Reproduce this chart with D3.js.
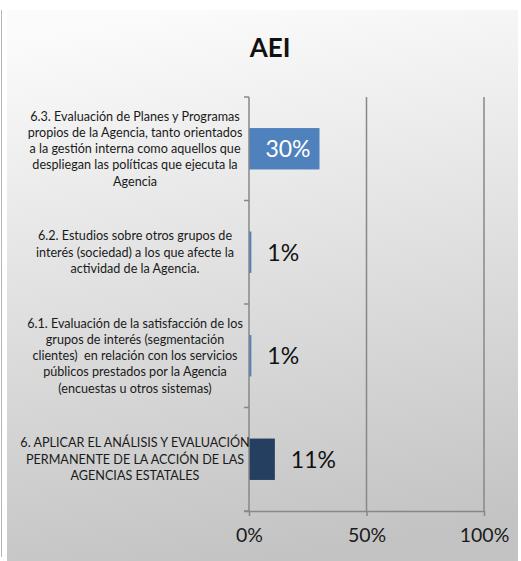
<!DOCTYPE html>
<html>
<head>
<meta charset="utf-8">
<script src="https://cdn.jsdelivr.net/npm/d3@7"></script>
<style>
  html, body { margin: 0; padding: 0; background: #ffffff; }
  svg { display: block; font-family: Lato, "Open Sans", sans-serif; }
</style>
</head>
<body>
<svg id="chart" width="521" height="561"></svg>
<script>
// Chart content
const chartTitle = "AEI";
const categories = [
  "6.3. Evaluación de Planes y Programas\npropios de la Agencia, tanto orientados\na la gestión interna como aquellos que\ndespliegan las políticas que ejecuta la\nAgencia",
  "6.2. Estudios sobre otros grupos de\ninterés (sociedad) a los que afecte la\nactividad de la Agencia.",
  "6.1. Evaluación de la satisfacción de los\ngrupos de interés (segmentación\nclientes)  en relación con los servicios\npúblicos prestados por la Agencia\n(encuestas u otros sistemas)",
  "6. APLICAR EL ANÁLISIS Y EVALUACIÓN\nPERMANENTE DE LA ACCIÓN DE LAS\nAGENCIAS ESTATALES"
];
const values = [0.30, 0.01, 0.01, 0.11];
const barColors = ["#4f81bd", "#4f81bd", "#4f81bd", "#243f60"];
const xTicks = [0, 0.5, 1];

const svg = d3.select("#chart");

// Panel background with a soft light-to-grey fade
const defs = svg.append("defs");
const grad = defs.append("linearGradient")
  .attr("id", "panelFill").attr("x1", "0.35").attr("y1", "0").attr("x2", "0.5").attr("y2", "1");
grad.append("stop").attr("offset", "0").attr("stop-color", "#fbfbfb");
grad.append("stop").attr("offset", "1").attr("stop-color", "#c3c3c3");

svg.append("line")
  .attr("x1", 1.5).attr("x2", 1.5).attr("y1", 10).attr("y2", 557)
  .attr("stroke", "#b5b5b5").attr("stroke-width", 1);

svg.append("rect")
  .attr("x", 7).attr("y", 10).attr("width", 511).attr("height", 551)
  .attr("fill", "url(#panelFill)");

// Plot geometry
const plot = { left: 249, right: 484, top: 97, bottom: 511 };

const x = d3.scaleLinear().domain([0, 1]).range([plot.left, plot.right]);
const y = d3.scaleBand().domain(categories).range([plot.top, plot.bottom])
  .paddingInner(0.6).paddingOuter(0.3);

const axisColor = "#878787";

// Vertical gridlines
svg.append("g").selectAll("line")
  .data(xTicks.filter(d => d > 0))
  .join("line")
  .attr("x1", d => x(d)).attr("x2", d => x(d))
  .attr("y1", plot.top).attr("y2", plot.bottom)
  .attr("stroke", axisColor).attr("stroke-width", 1.5);

// Bars
svg.append("g").selectAll("rect")
  .data(categories)
  .join("rect")
  .attr("x", x(0))
  .attr("y", d => y(d))
  .attr("width", (d, i) => x(values[i]) - x(0))
  .attr("height", y.bandwidth())
  .attr("fill", (d, i) => barColors[i]);

// Category axis (left) with ticks at band boundaries
const step = y.step();
const boundaries = d3.range(categories.length + 1).map(i => plot.top + i * step);
const yAxisG = svg.append("g");
yAxisG.append("line")
  .attr("x1", x(0)).attr("x2", x(0)).attr("y1", plot.top).attr("y2", plot.bottom)
  .attr("stroke", axisColor).attr("stroke-width", 1.5);
yAxisG.selectAll("line.tick")
  .data(boundaries)
  .join("line")
  .attr("class", "tick")
  .attr("x1", x(0) - 5).attr("x2", x(0))
  .attr("y1", d => d).attr("y2", d => d)
  .attr("stroke", axisColor).attr("stroke-width", 1.5);

// Category labels, centred in the left column
const lineH = 16.3;
const labelX = 135;
const labelG = svg.append("g")
  .attr("font-size", 12.6).attr("fill", "#1a1a1a").attr("text-anchor", "middle");
categories.forEach(cat => {
  const lines = cat.split("\n");
  const cy = y(cat) + y.bandwidth() / 2;
  const t = labelG.append("text")
    .attr("x", labelX)
    .attr("y", cy - (lines.length - 1) * lineH / 2);
  lines.forEach((ln, k) => {
    t.append("tspan")
      .attr("x", labelX)
      .attr("dy", k === 0 ? "0.35em" : lineH)
      .attr("xml:space", "preserve")
      .text(ln);
  });
});

// Value axis (bottom)
const xAxis = d3.axisBottom(x)
  .tickValues(xTicks)
  .tickFormat(d3.format(".0%"))
  .tickSize(5)
  .tickSizeOuter(0)
  .tickPadding(12);
const xAxisG = svg.append("g")
  .attr("transform", `translate(0,${plot.bottom})`)
  .call(xAxis);
xAxisG.select(".domain")
  .attr("stroke", axisColor).attr("stroke-width", 1.5)
  .attr("d", `M${x(0) - 5},0.5H${x(1)}`);
xAxisG.selectAll(".tick line").attr("stroke", axisColor).attr("stroke-width", 1.5);
xAxisG.selectAll(".tick text")
  .attr("font-family", "Lato, sans-serif")
  .attr("font-size", 19.5)
  .attr("fill", "#1a1a1a");

// Data labels
const fmt = d3.format(".0%");
svg.append("g").selectAll("text")
  .data(categories)
  .join("text")
  .attr("x", (d, i) => values[i] >= 0.2 ? x(values[i]) - 9 : x(values[i]) + 16)
  .attr("y", d => y(d) + y.bandwidth() / 2)
  .attr("dy", "0.36em")
  .attr("text-anchor", (d, i) => values[i] >= 0.2 ? "end" : "start")
  .attr("font-size", 23)
  .attr("fill", (d, i) => values[i] >= 0.2 ? "#ffffff" : "#111111")
  .text((d, i) => fmt(values[i]));

// Title
svg.append("text")
  .attr("x", 270).attr("y", 57)
  .attr("text-anchor", "middle")
  .attr("font-size", 26)
  .attr("font-weight", "bold")
  .attr("fill", "#111111")
  .text(chartTitle);
</script>
</body>
</html>
